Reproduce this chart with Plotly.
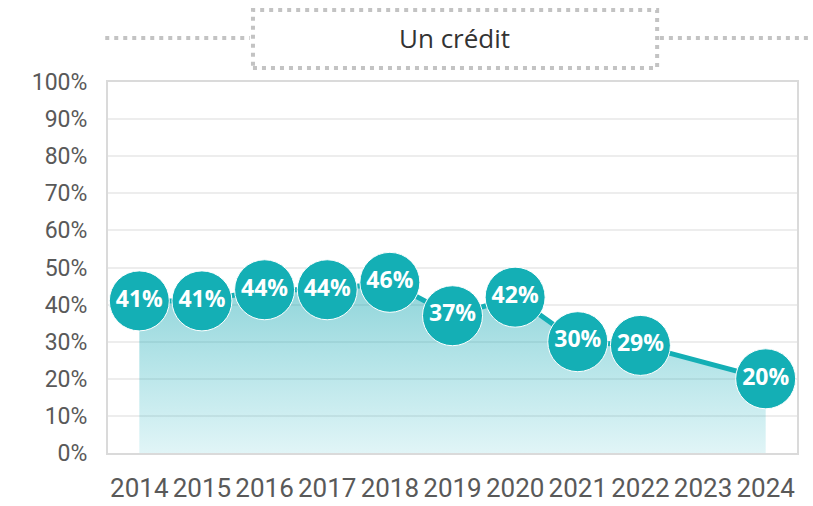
"""Un crédit - share over time, recreated with Plotly."""

import plotly.graph_objects as go

YEARS = ["2014", "2015", "2016", "2017", "2018", "2019", "2020", "2021", "2022", "2023", "2024"]
SHARE = [41, 41, 44, 44, 46, 37, 42, 30, 29, None, 20]
Y_TICKS = [0, 10, 20, 30, 40, 50, 60, 70, 80, 90, 100]
TITLE = "Un crédit"

TEAL = "#14AFB5"
GREY_TEXT = "#595959"
DOT_GREY = "#C3C3C3"

labels = [f"{v}%" if v is not None else "" for v in SHARE]

fig = go.Figure()
fig.add_trace(
    go.Scatter(
        x=YEARS,
        y=SHARE,
        mode="lines+markers+text",
        connectgaps=True,
        fill="tozeroy",
        fillgradient={
            "type": "vertical",
            "colorscale": [[0, "rgba(20,175,190,0.13)"], [1, "rgba(20,165,175,0.48)"]],
        },
        line={"color": TEAL, "width": 5},
        marker={"size": 60, "color": TEAL, "line": {"color": "white", "width": 1}},
        text=labels,
        textposition="middle center",
        textfont={"family": "Open Sans", "size": 23, "color": "white", "weight": "bold"},
        hoverinfo="skip",
        cliponaxis=False,
    )
)

fig.update_layout(
    width=813,
    height=506,
    margin={"l": 108, "r": 16, "t": 82, "b": 53},
    paper_bgcolor="white",
    plot_bgcolor="white",
    showlegend=False,
    font={"family": "Open Sans", "color": GREY_TEXT},
)
fig.update_xaxes(
    type="category",
    range=[-0.5, 10.5],
    showgrid=False,
    showline=True,
    linecolor="#DADADA",
    linewidth=2,
    mirror=True,
    tickangle=0,
    automargin=False,
    tickfont={"family": "Roboto", "size": 26, "color": GREY_TEXT},
    ticklabelstandoff=11,
)
fig.update_yaxes(
    range=[0, 100],
    tickvals=Y_TICKS,
    ticktext=[f"{v}%" for v in Y_TICKS],
    showgrid=True,
    gridcolor="#EDEDED",
    gridwidth=2,
    zeroline=False,
    showline=True,
    linecolor="#DADADA",
    linewidth=2,
    mirror=True,
    automargin=False,
    tickfont={"family": "Roboto", "size": 23, "color": GREY_TEXT},
    ticklabelstandoff=14,
)

# title box with dotted frame and dotted leader lines
dotted = {"color": DOT_GREY, "width": 4, "dash": "4px,5px"}
fig.add_shape(type="rect", xref="paper", yref="paper",
              x0=0.2104, x1=0.797, y0=1.038, y1=1.194, line=dotted)
fig.add_shape(type="line", xref="paper", yref="paper",
              x0=-0.004, x1=0.206, y0=1.1186, y1=1.1186, line=dotted)
fig.add_shape(type="line", xref="paper", yref="paper",
              x0=0.801, x1=1.023, y0=1.1186, y1=1.1186, line=dotted)
fig.add_annotation(
    text=TITLE, xref="paper", yref="paper", x=0.5036, y=1.1186,
    showarrow=False, xanchor="center", yanchor="middle",
    font={"family": "Open Sans", "size": 26, "color": "#333333"},
)

fig.write_html(
    "out.html",
    config={"displayModeBar": False},
    post_script="document.body.style.margin='0px';",
)
